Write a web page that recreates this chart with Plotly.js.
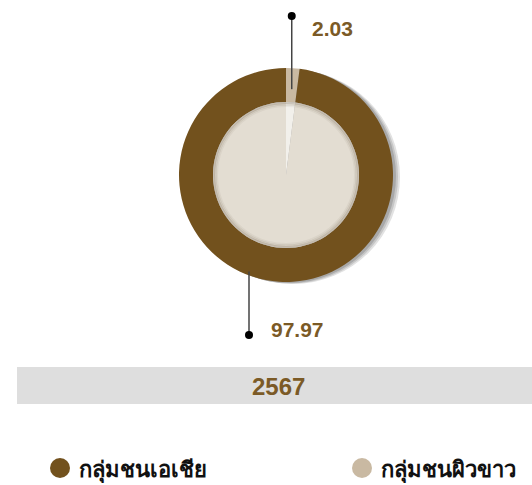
<!DOCTYPE html>
<html>
<head>
<meta charset="utf-8">
<script src="https://cdn.plot.ly/plotly-3.0.1.min.js"></script>
<style>
  html, body { margin: 0; padding: 0; background: #ffffff; }
  #chart { width: 532px; height: 485px; }
</style>
</head>
<body>
<div id="chart"></div>
<script>
// Population share by group, year 2567
const categories = ['กลุ่มชนเอเชีย', 'กลุ่มชนผิวขาว'];
const shares = [97.97, 2.03];
const yearLabel = '2567';

const ringColors = ['#72511d', '#c9b9a2'];
const holeColors = ['#e3ddd2', '#f2f0eb'];
const textColor = '#7b5a26';

const W = 532, H = 485;
const cx = 286, cy = 175, rOuter = 107, rInner = 73;

// pixel box -> paper domain
function dom(r) {
  return {
    x: [(cx - r) / W, (cx + r) / W],
    y: [1 - (cy + r) / H, 1 - (cy - r) / H]
  };
}
const px = x => x / W;
const py = y => 1 - y / H;

// slices drawn clockwise from 12 o'clock, smaller share first
const order = [1, 0];
const labels = order.map(i => categories[i]);
const vals = order.map(i => shares[i]);

const ring = {
  type: 'pie', labels: labels, values: vals, hole: rInner / rOuter,
  sort: false, direction: 'clockwise', rotation: 0,
  marker: { colors: order.map(i => ringColors[i]), line: { width: 0 } },
  textinfo: 'none', hoverinfo: 'label+value', showlegend: false,
  domain: dom(rOuter)
};
const core = {
  type: 'pie', labels: labels, values: vals,
  sort: false, direction: 'clockwise', rotation: 0,
  marker: { colors: order.map(i => holeColors[i]), line: { width: 0 } },
  textinfo: 'none', hoverinfo: 'skip', showlegend: false,
  domain: dom(rInner)
};

const total = shares.reduce((a, b) => a + b, 0);
// leader for the small slice: through the middle of its arc
const midSmall = (shares[1] / total) * Math.PI; // radians from 12 o'clock
const lxSmall = cx + (rOuter + rInner) / 2 * Math.sin(midSmall);
const lyTopSmall = 16;
const lyBotSmall = cy - (rOuter + rInner) / 2 * Math.cos(midSmall) + 4;
// leader for the large slice, leaving its lower edge
const lxLarge = 249;
const lyTopLarge = cy + Math.sqrt(rOuter * rOuter - (lxLarge - cx) * (lxLarge - cx)) - 4;
const lyBotLarge = 335;

const shapes = [];
// drop shadow behind the ring
shapes.push({ type: 'circle', xref: 'paper', yref: 'paper', layer: 'below',
  x0: px(cx - rOuter + 7), x1: px(cx + rOuter + 7), y0: py(cy + rOuter + 2), y1: py(cy - rOuter + 2),
  fillcolor: '#e2e2e2', line: { width: 0 } });
shapes.push({ type: 'circle', xref: 'paper', yref: 'paper', layer: 'below',
  x0: px(cx - rOuter + 5), x1: px(cx + rOuter + 5), y0: py(cy + rOuter + 1.5), y1: py(cy - rOuter + 1.5),
  fillcolor: '#c6c6c6', line: { width: 0 } });
shapes.push({ type: 'circle', xref: 'paper', yref: 'paper', layer: 'below',
  x0: px(cx - rOuter + 3), x1: px(cx + rOuter + 3), y0: py(cy + rOuter + 1), y1: py(cy - rOuter + 1),
  fillcolor: '#a8a8a8', line: { width: 0 } });
// soft inner shading at the edge of the hole
[[1, 0.22], [2.5, 0.12], [4, 0.06]].forEach(([d, a]) => {
  shapes.push({ type: 'circle', xref: 'paper', yref: 'paper', layer: 'above',
    x0: px(cx - rInner + d), x1: px(cx + rInner - d), y0: py(cy + rInner - d), y1: py(cy - rInner + d),
    line: { width: 2, color: 'rgba(90,75,50,' + a + ')' } });
});
// leader lines
shapes.push({ type: 'line', xref: 'paper', yref: 'paper', layer: 'above',
  x0: px(lxSmall), x1: px(lxSmall), y0: py(lyTopSmall), y1: py(lyBotSmall),
  line: { color: '#444444', width: 1.5 } });
shapes.push({ type: 'line', xref: 'paper', yref: 'paper', layer: 'above',
  x0: px(lxLarge), x1: px(lxLarge), y0: py(lyTopLarge), y1: py(lyBotLarge),
  line: { color: '#444444', width: 1.5 } });
[[lxSmall, lyTopSmall], [lxLarge, lyBotLarge]].forEach(([x, y]) => {
  shapes.push({ type: 'circle', xref: 'paper', yref: 'paper', layer: 'above',
    x0: px(x - 4), x1: px(x + 4), y0: py(y + 4), y1: py(y - 4),
    fillcolor: '#000000', line: { width: 0 } });
});
// year band
shapes.push({ type: 'rect', xref: 'paper', yref: 'paper', layer: 'below',
  x0: px(17), x1: 1, y0: py(404), y1: py(367), fillcolor: '#dedede', line: { width: 0 } });

const numFont = { family: 'Liberation Sans, Arial, sans-serif', size: 21, color: textColor, weight: 'bold' };
const annotations = [
  { xref: 'paper', yref: 'paper', x: px(lxSmall + 18), y: py(28), xanchor: 'left', yanchor: 'middle',
    text: shares[1].toFixed(2), showarrow: false, font: numFont },
  { xref: 'paper', yref: 'paper', x: px(lxLarge + 20), y: py(329), xanchor: 'left', yanchor: 'middle',
    text: shares[0].toFixed(2), showarrow: false, font: numFont },
  { xref: 'paper', yref: 'paper', x: px(278), y: py(386), xanchor: 'center', yanchor: 'middle',
    text: yearLabel, showarrow: false,
    font: { family: 'Liberation Sans, Arial, sans-serif', size: 24, color: textColor, weight: 'bold' } }
];
// legend: coloured dot + group name
const legendX = [60, 362];
categories.forEach((c, i) => {
  shapes.push({ type: 'circle', xref: 'paper', yref: 'paper', layer: 'above',
    x0: px(legendX[i] - 10), x1: px(legendX[i] + 10), y0: py(478), y1: py(458),
    fillcolor: ringColors[i], line: { width: 0 } });
  annotations.push({ xref: 'paper', yref: 'paper', x: px(legendX[i] + 17), y: py(468),
    xanchor: 'left', yanchor: 'middle', text: c, showarrow: false,
    font: { family: 'Noto Sans, sans-serif', size: 22, color: '#111111', weight: 'bold' } });
});

Plotly.newPlot('chart', [ring, core], {
  width: W, height: H,
  margin: { l: 0, r: 0, t: 0, b: 0, pad: 0 },
  paper_bgcolor: '#ffffff',
  showlegend: false,
  shapes: shapes,
  annotations: annotations
}, { displayModeBar: false, staticPlot: true });
</script>
</body>
</html>
